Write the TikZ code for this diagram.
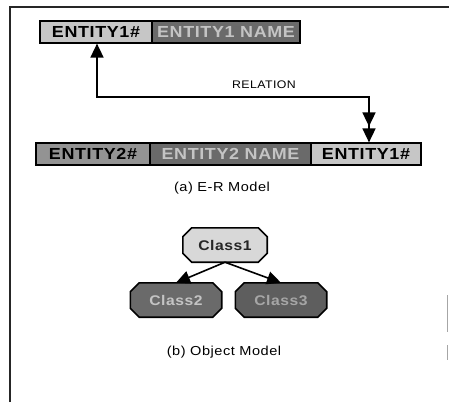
\documentclass[tikz,border=0pt]{standalone}
\usepackage{fontspec}
\setmainfont{Liberation Sans}[FakeStretch=1.12, LetterSpace=4]
\usetikzlibrary{arrows.meta,backgrounds}

\definecolor{lightfill}{HTML}{C6C6C6}
\definecolor{midfill}{HTML}{939393}
\definecolor{darkfill}{HTML}{6A6A6A}
\definecolor{darkerfill}{HTML}{5E5E5E}
\definecolor{paletext}{HTML}{C4C4C4}
\definecolor{classlight}{HTML}{D8D8D8}

\tikzset{
  field/.style={draw=black, line width=1.2pt, minimum height=22pt, inner sep=0pt,
    font=\fontsize{16}{18}\selectfont\bfseries},
  cls/.style={minimum height=34pt, inner sep=0pt, font=\fontsize{14}{16}\selectfont\bfseries},
  caption/.style={font=\fontsize{13}{15}\selectfont, inner sep=0pt},
  link/.style={line width=1.6pt},
  frame/.style={line width=1.2pt, black!85}
}

% chamfered outline behind a class node
\newcommand\chamfer[2]{%
  \begin{scope}[on background layer]
    \filldraw[fill=#2, draw=black, line width=1.6pt]
      ([xshift=9pt]#1.north west) -- ([xshift=-9pt]#1.north east)
      -- ([yshift=-9pt]#1.north east) -- ([yshift=9pt]#1.south east)
      -- ([xshift=-9pt]#1.south east) -- ([xshift=9pt]#1.south west)
      -- ([yshift=9pt]#1.south west) -- ([yshift=-9pt]#1.north west) -- cycle;
  \end{scope}}

\begin{document}
\begin{tikzpicture}[x=1pt, y=-1pt]
\useasboundingbox (0,0) rectangle (449,402);

% page frame
\draw[frame] (10,402) -- (10,7) -- (449,7);
\draw[line width=0.8pt, black!35] (447,295) -- (447,332) (447,345) -- (447,360);

% E-R model: entity rows
\node[field, fill=lightfill, minimum width=112pt] (e1) at (96,32) {ENTITY1\#};
\node[field, fill=darkfill, text=paletext, minimum width=148pt] (n1) at (226,32) {ENTITY1 NAME};

\node[field, fill=midfill, minimum width=114pt] (e2) at (93,154) {ENTITY2\#};
\node[field, fill=darkfill, text=paletext, minimum width=161pt] (n2) at (230.5,154) {ENTITY2 NAME};
\node[field, fill=lightfill, minimum width=110pt] (f3) at (366,154) {ENTITY1\#};

% relation connector
\coordinate (b1) at (97,97);
\coordinate (b2) at (369,97);
\draw[link, {Triangle[length=14pt,width=13pt]}-{Triangle[length=14pt,width=13pt,sep=2pt]Triangle[length=14pt,width=13pt]}]
  (e1.south -| b1) -- (b1) -- (b2) -- (f3.north -| b2);
\node[caption, font=\fontsize{11}{13}\selectfont] (rel) at (264,85) {RELATION};

\node[caption] (capa) at (222,188) {(a) E-R Model};

% object model
\node[cls, minimum width=84pt, text=black!85] (c1) at (225,245) {Class1};
\node[cls, minimum width=91pt, text=paletext] (c2) at (176,300) {Class2};
\node[cls, minimum width=91pt, text=black!35] (c3) at (281,300) {Class3};
\chamfer{c1}{classlight}
\chamfer{c2}{darkfill}
\chamfer{c3}{darkerfill}

\draw[link, -{Triangle[length=14pt,width=13pt]}] (c1.south) -- (c2.north);
\draw[link, -{Triangle[length=14pt,width=13pt]}] (c1.south) -- (c3.north);

\node[caption] (capb) at (224,352) {(b) Object Model};
\end{tikzpicture}
\end{document}
